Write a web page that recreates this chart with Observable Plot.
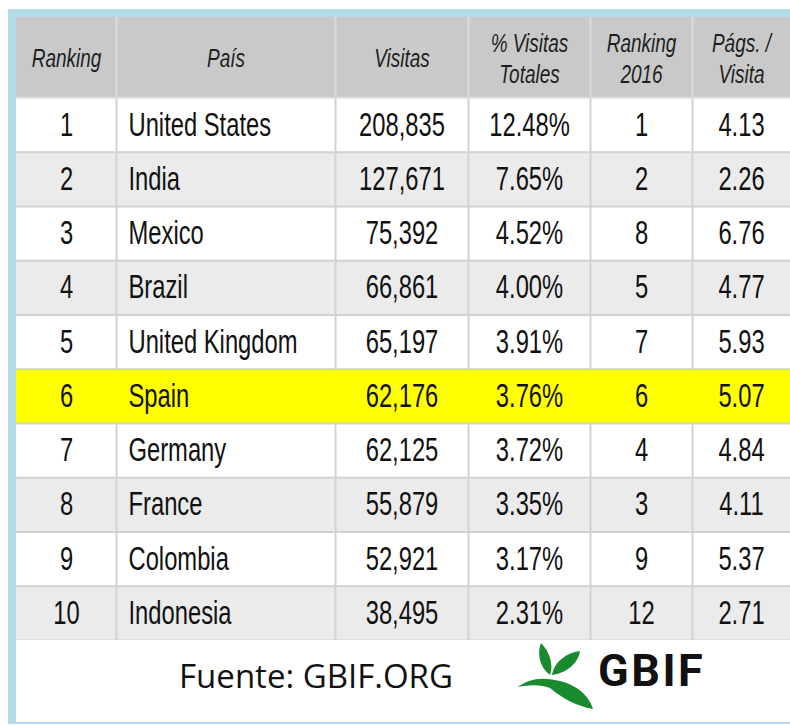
<!DOCTYPE html>
<html><head><meta charset="utf-8">
<script src="https://cdn.jsdelivr.net/npm/d3@7"></script>
<script src="https://cdn.jsdelivr.net/npm/@observablehq/plot@0.6"></script>
<style>
html,body{margin:0;padding:0;background:#fff;}
body{width:790px;height:725px;overflow:hidden;position:relative;}
#card{position:absolute;left:8px;top:9px;width:782px;border-left:8px solid #b3dce7;border-top:8px solid #b3dce7;border-bottom:2px solid #b3dce7;box-sizing:border-box;}
#table svg{display:block;}
#footer{position:relative;height:82px;background:#fff;}
#fuente{position:absolute;left:300px;top:13px;transform:translateX(-50%);font-family:"Open Sans",sans-serif;font-size:33px;color:#111;white-space:nowrap;}
#logo{position:absolute;left:494px;top:0px;}
#gbif{position:absolute;left:582px;top:4px;font-family:Roboto,sans-serif;font-weight:700;font-size:45px;color:#111;letter-spacing:2.5px;}
</style>
</head><body>
<div id="card"><div id="table"></div><div id="footer">
<div id="fuente">Fuente: GBIF.ORG</div>
<svg id="logo" width="90" height="75" viewBox="0 0 90 75">
<path fill="#1a8a2f" d="M40,35 C29,27 27,12 31,3 C39,11 44,24 40,35 Z"/>
<path fill="#1a8a2f" d="M42,35 C44,22 56,13 70,11 C68,24 56,33 42,35 Z"/>
<path fill="#1a8a2f" d="M8,47 C16,41 26,38 36,39 C60,40 78,52 83,69 C66,66 52,58 40,48 C30,44 18,45 8,47 Z"/>
</svg>
<div id="gbif">GBIF</div>
</div></div>
<script>
// ---- data ----
const ranking = [1, 2, 3, 4, 5, 6, 7, 8, 9, 10];
const paises = ["United States", "India", "Mexico", "Brazil", "United Kingdom", "Spain", "Germany", "France", "Colombia", "Indonesia"];
const visitas = [208835, 127671, 75392, 66861, 65197, 62176, 62125, 55879, 52921, 38495];
const pctVisitas = [12.48, 7.65, 4.52, 4.00, 3.91, 3.76, 3.72, 3.35, 3.17, 2.31];
const ranking2016 = [1, 2, 8, 5, 7, 6, 4, 3, 9, 12];
const pagsVisita = [4.13, 2.26, 6.76, 4.77, 5.93, 5.07, 4.84, 4.11, 5.37, 2.71];
const headers = ["Ranking", "País", "Visitas", "% Visitas\nTotales", "Ranking\n2016", "Págs. /\nVisita"];
const highlight = "Spain";

// ---- layout ----
const colWidths = [100, 219, 133, 122, 102, 98];
const edges = Array.from(d3.cumsum([0, ...colWidths]));
const total = edges[edges.length - 1];
const H = 80 / 54; // header height in row units
const N = paises.length;
const font = "'Liberation Sans', Arial, sans-serif";

const rows = paises.map((p, i) => ({
  i, rank: ranking[i], pais: p, vis: visitas[i], pct: pctVisitas[i], r16: ranking2016[i], pags: pagsVisita[i]
}));

const cols = [
  {get: d => String(d.rank), anchor: "middle"},
  {get: d => d.pais, anchor: "start"},
  {get: d => d3.format(",")(d.vis), anchor: "middle"},
  {get: d => d3.format(".2f")(d.pct) + "%", anchor: "middle"},
  {get: d => String(d.r16), anchor: "middle"},
  {get: d => d3.format(".2f")(d.pags), anchor: "middle"}
];
const colX = (c, anchor) => anchor === "start" ? edges[c] + 12 : (edges[c] + edges[c + 1]) / 2;

const vsegs = [];
for (let c = 1; c < edges.length - 1; c++) {
  vsegs.push({x: edges[c], y1: 0, y2: H, head: true});
  rows.forEach(d => { if (d.pais !== highlight) vsegs.push({x: edges[c], y1: H + d.i, y2: H + d.i + 1, head: false}); });
}
const hlines = d3.range(1, N + 1).map(k => H + k);

const fillOf = d => d.pais === highlight ? "#ffff00" : (d.i % 2 === 1 ? "#ebebeb" : "#ffffff");

const marks = [
  Plot.rect([0], {x1: 0, x2: total, y1: 0, y2: H, fill: "#c9c9c9"}),
  Plot.rect(rows, {x1: 0, x2: total, y1: d => H + d.i, y2: d => H + d.i + 1, fill: fillOf}),
  Plot.ruleX(vsegs, {x: "x", y1: "y1", y2: "y2", stroke: d => d.head ? "#dadada" : "#d2d2d2", strokeWidth: 2}),
  Plot.ruleY(hlines, {x1: 0, x2: total, stroke: "#d2d2d2", strokeWidth: 2}),
  Plot.ruleY([H], {x1: 0, x2: total, stroke: "#dcdcdc", strokeWidth: 1.5}),
  Plot.text(headers, {
    x: (d, j) => (edges[j] + edges[j + 1]) / 2, y: () => H / 2, text: d => d,
    fontSize: 25, fontStyle: "italic", fontFamily: font, fill: "#1e1e1e", lineHeight: 1.22, textAnchor: "middle",
    className: "hdr"
  }),
  ...cols.map((col, c) => Plot.text(rows, {
    x: () => colX(c, col.anchor), y: d => H + d.i + 0.5, text: col.get,
    textAnchor: col.anchor, fontSize: 33, fontFamily: font, fill: "#111", className: "cell"
  }))
];

const chart = Plot.plot({
  width: total, height: 623,
  marginTop: 0, marginBottom: 0, marginLeft: 0, marginRight: 0,
  x: {domain: [0, total], axis: null},
  y: {domain: [0, H + N], axis: null, reverse: true},
  style: {background: "transparent", overflow: "visible"},
  marks
});
// condense the text horizontally (the reference uses a narrow typeface)
const condense = (sel, s) => chart.querySelectorAll(sel).forEach(g => {
  g.querySelectorAll("text").forEach(t => {
    const tr = t.getAttribute("transform") || "";
    t.setAttribute("transform", tr + ` scale(${s},1)`);
  });
});
condense("g.hdr", 0.76);
condense("g.cell", 0.72);
document.getElementById("table").appendChild(chart);
</script>
</body></html>
